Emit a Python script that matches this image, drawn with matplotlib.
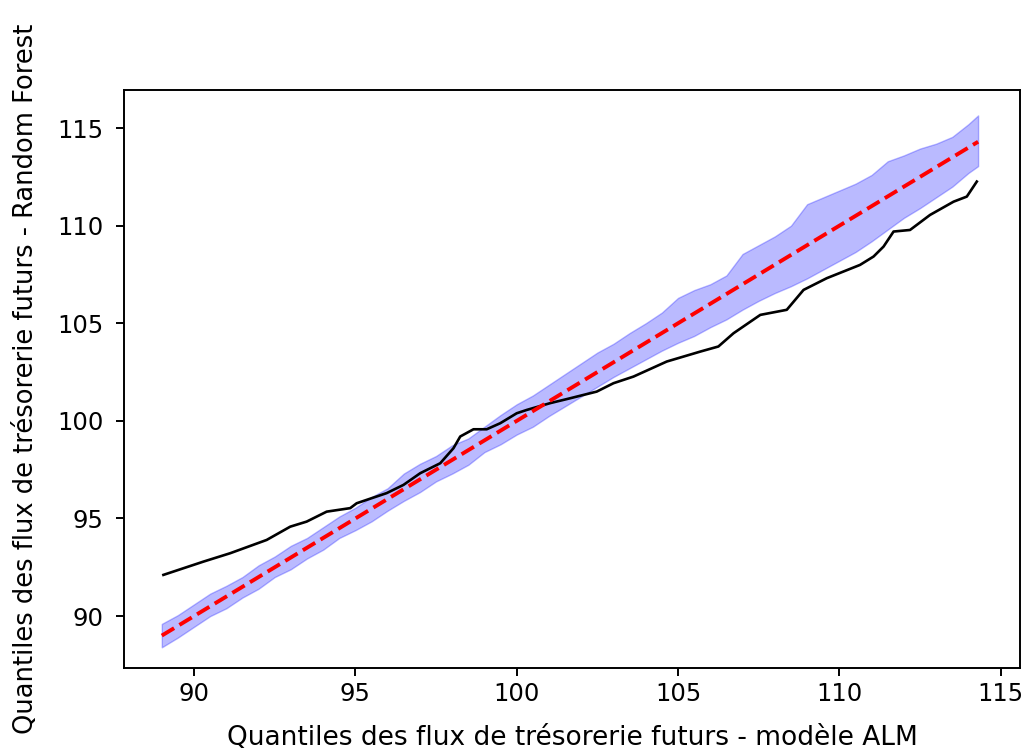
import matplotlib
matplotlib.use("Agg")
import matplotlib.pyplot as plt

# quantile grid (modele ALM) and random forest confidence band
q_x = [89.0, 89.5, 90.0, 90.5, 91.0, 91.5, 92.0, 92.5, 93.0, 93.5,
       94.0, 94.5, 95.0, 95.5, 96.0, 96.5, 97.0, 97.5, 98.0, 98.5,
       99.0, 99.5, 100.0, 100.5, 101.0, 101.5, 102.0, 102.5, 103.0, 103.5,
       104.0, 104.5, 105.0, 105.5, 106.0, 106.5, 107.0, 107.5, 108.0, 108.5,
       109.0, 109.5, 110.0, 110.5, 111.0, 111.5, 112.0, 112.5, 113.0, 113.5,
       114.0, 114.3]
band_lo = [88.40, 88.90, 89.45, 90.00, 90.40, 90.95, 91.40, 92.00, 92.40, 92.95,
           93.40, 94.00, 94.40, 94.85, 95.40, 95.90, 96.35, 96.90, 97.30, 97.75,
           98.40, 98.80, 99.30, 99.70, 100.25, 100.75, 101.25, 101.75, 102.25, 102.70,
           103.15, 103.60, 104.00, 104.35, 104.80, 105.20, 105.70, 106.15, 106.55, 106.90,
           107.30, 107.75, 108.20, 108.65, 109.20, 109.80, 110.40, 110.90, 111.45, 112.00,
           112.70, 113.05]
band_hi = [89.60, 90.05, 90.60, 91.15, 91.55, 92.00, 92.60, 93.05, 93.60, 94.00,
           94.55, 95.10, 95.55, 96.10, 96.55, 97.30, 97.80, 98.20, 98.75, 99.10,
           99.70, 100.30, 100.85, 101.30, 101.85, 102.40, 102.95, 103.50, 103.95, 104.50,
           105.00, 105.55, 106.30, 106.70, 107.00, 107.45, 108.55, 109.00, 109.45, 110.00,
           111.10, 111.45, 111.80, 112.15, 112.60, 113.30, 113.60, 113.95, 114.20, 114.55,
           115.20, 115.65]

# observed quantiles (black line)
obs_x = [89.05, 90.29, 91.12, 92.25, 92.98, 93.49, 94.11, 94.84, 95.04, 95.97,
         96.49, 97.01, 97.63, 98.04, 98.25, 98.66, 99.07, 99.49, 100.00, 100.31,
         101.04, 101.66, 102.48, 103.00, 103.62, 104.65, 105.69, 106.25, 106.72, 107.55,
         108.37, 108.89, 109.61, 110.64, 111.06, 111.37, 111.68, 112.19, 112.81, 113.54,
         113.95, 114.26]
obs_y = [92.11, 92.79, 93.22, 93.90, 94.58, 94.84, 95.35, 95.53, 95.78, 96.30,
         96.72, 97.32, 97.83, 98.60, 99.20, 99.57, 99.57, 99.88, 100.39, 100.56,
         100.91, 101.16, 101.50, 101.93, 102.27, 103.04, 103.55, 103.81, 104.49, 105.43,
         105.69, 106.71, 107.31, 107.99, 108.42, 108.93, 109.70, 109.78, 110.55, 111.23,
         111.49, 112.26]

# identity line
ref_x = [89.0, 114.3]
ref_y = [89.0, 114.3]

fig = plt.figure(figsize=(10.26, 7.52), dpi=100)
ax = fig.add_axes([0.1209, 0.1117, 0.8733, 0.7686])

ax.fill_between(q_x, band_lo, band_hi, color='b', alpha=0.27, linewidth=1)
ax.plot(obs_x, obs_y, color='black', linewidth=1.9)
ax.plot(ref_x, ref_y, 'r--', linewidth=2.8)

ax.set_xlim(87.83, 115.6)
ax.set_ylim(87.34, 116.95)
ax.set_xticks([90, 95, 100, 105, 110, 115])
ax.set_yticks([90, 95, 100, 105, 110, 115])

ax.set_xlabel('Quantiles des flux de trésorerie futurs - modèle ALM', fontsize=19, labelpad=14)
ax.set_ylabel('Quantiles des flux de trésorerie futurs - Random Forest', fontsize=18.5, labelpad=13)
ax.tick_params(labelsize=17.5, length=6, width=1.4)
ax.tick_params(axis='y', pad=9)
ax.tick_params(axis='x', pad=4)
for s in ax.spines.values():
    s.set_linewidth(1.4)

fig.savefig('out.png', dpi=100)
